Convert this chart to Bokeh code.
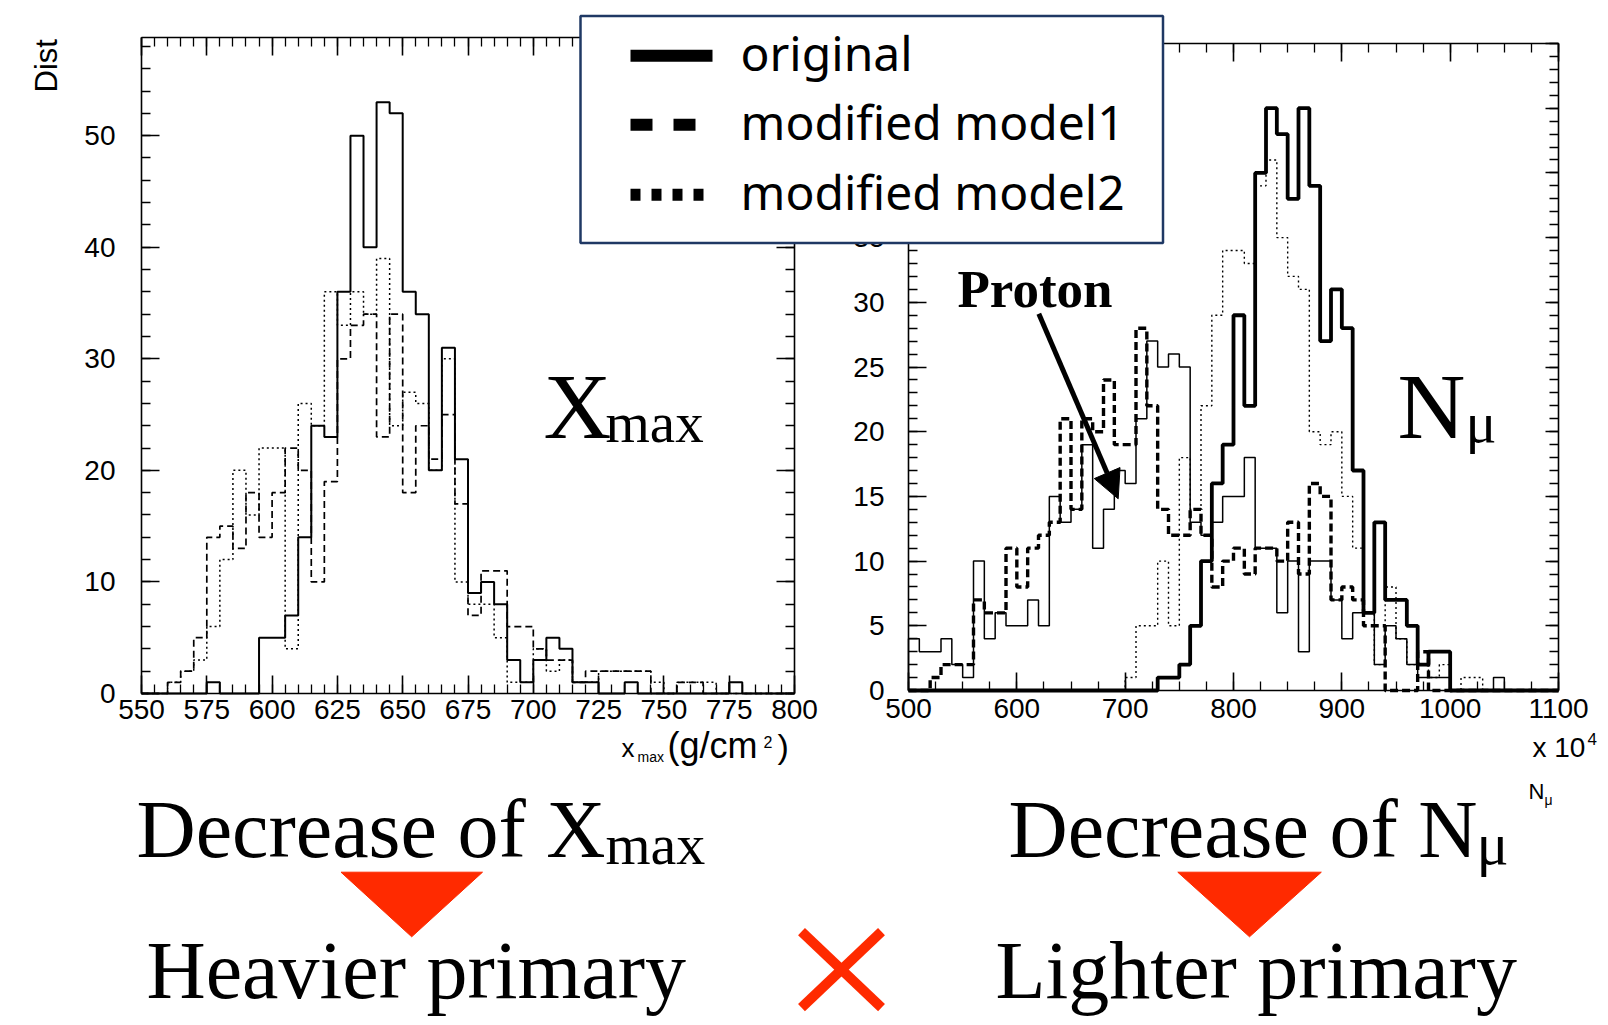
import math
import numpy as np
from bokeh.plotting import figure
from bokeh.models import (Range1d, LinearAxis, SingleIntervalTicker, Label, Arrow,
                          NormalHead, BoxAnnotation, PolyAnnotation)
from bokeh.embed import file_html
from bokeh.resources import INLINE

# ---------------- data ----------------
XMAX_START = 550          # g/cm2, first bin edge
XMAX_BIN = 5
XMAX_ORIGINAL = [0, 0, 0, 0, 0, 1, 0, 0, 0, 5,
                 5, 7, 14, 24, 23, 36, 50, 40, 53, 52,
                 36, 34, 20, 31, 21, 9, 10, 8, 3, 1,
                 3, 5, 4, 1, 1, 0, 0, 1, 0, 0,
                 0, 0, 0, 0, 0, 1, 0, 0, 0, 0]
XMAX_MODEL1 = [0, 0, 1, 2, 5, 14, 15, 13, 18, 14,
               18, 22, 20, 10, 19, 30, 33, 34, 23, 34,
               18, 24, 21, 25, 17, 7, 11, 11, 6, 6,
               4, 3, 3, 1, 2, 2, 2, 2, 2, 0,
               0, 1, 1, 0, 0, 0, 0, 0, 0, 0]
XMAX_MODEL2 = [0, 0, 1, 2, 3, 6, 12, 20, 16, 22,
               22, 4, 26, 24, 36, 33, 36, 34, 39, 24,
               27, 26, 20, 30, 10, 8, 8, 5, 1, 1,
               4, 2, 3, 1, 1, 2, 2, 2, 2, 1,
               0, 1, 1, 1, 0, 0, 0, 0, 0, 0]

NMU_START = 500           # x 10^4
NMU_BIN = 10
NMU_THIN_SOLID = [4, 3, 3, 4, 2, 1, 10, 4, 6, 5,
                  5, 7, 5, 15, 13, 14, 19, 11, 14, 17,
                  16, 21, 27, 25, 26, 25, 13, 12, 13, 15,
                  15, 18, 11, 11, 6, 10, 3, 10, 10, 7,
                  4, 6, 6, 2, 5, 4, 2, 1, 1, 1,
                  0, 0, 0, 0, 1, 0, 0, 0, 0, 0]
NMU_THICK_DASHED = [0, 0, 1, 2, 2, 2, 7, 6, 6, 11,
                    8, 11, 12, 13, 21, 14, 21, 20, 24, 19,
                    19, 28, 22, 14, 12, 12, 14, 12, 8, 10,
                    11, 9, 11, 11, 10, 13, 9, 16, 15, 7,
                    8, 7, 5, 5, 0, 0, 0, 3, 0, 0,
                    0, 0, 0, 0, 0, 0, 0, 0, 0, 0]
NMU_THICK_SOLID = [0, 0, 0, 0, 0, 0, 0, 0, 0, 0,
                   0, 0, 0, 0, 0, 0, 0, 0, 0, 0,
                   0, 0, 0, 1, 1, 2, 5, 10, 16, 19,
                   29, 22, 40, 45, 43, 38, 45, 39, 27, 31,
                   28, 17, 6, 13, 7, 7, 5, 2, 3, 3,
                   0, 0, 0, 0, 0, 0, 0, 0, 0, 0]
NMU_THIN_DOTTED = [0, 0, 0, 0, 0, 0, 0, 0, 0, 0,
                   0, 0, 0, 0, 0, 0, 0, 0, 0, 0,
                   1, 5, 5, 10, 5, 18, 14, 22, 29, 34,
                   34, 33, 39, 41, 35, 32, 31, 20, 19, 20,
                   15, 11, 6, 2, 8, 4, 2, 2, 1, 2,
                   0, 1, 1, 0, 0, 0, 0, 0, 0, 0]

LEGEND_LABELS = ["original", "modified model1", "modified model2"]

# ---------------- geometry (page pixels) ----------------
RED = "#FF2A00"
NAVY = "#1F3864"
SERIF = "Liberation Serif"
SANS = "Liberation Sans"
NOTO = "Noto Sans"
# measured offset of the alphabetic baseline, as a fraction of the font size
BASE_SHIFT = {SERIF: 0.36, SANS: 0.42, NOTO: 0.40}

W, H = 1600, 1021                      # canvas, placed at the page origin
PX0, PY0 = 0, 0
L_BOX = (141, 794, 37, 693)            # left panel frame: x0, x1, ytop, ybottom
R_BOX = (908, 1558, 43, 690)           # right panel frame
L_XR, L_YR = (550, 800), (0, 58.8)
R_XR, R_YR = (500, 1100), (0, 50)


def lin(p0, p1, v0, v1):
    return lambda p: v0 + (p - p0) * (v1 - v0) / (p1 - p0)


LX = lin(L_BOX[0], L_BOX[1], *L_XR)
LY = lin(L_BOX[3], L_BOX[2], *L_YR)
RX = lin(R_BOX[0], R_BOX[1], *R_XR)
RY = lin(R_BOX[3], R_BOX[2], *R_YR)

p = figure(width=W, height=H, min_border=0,
           x_range=Range1d(LX(PX0), LX(PX0 + W)),
           y_range=Range1d(LY(PY0 + H), LY(PY0)),
           x_axis_location=None, y_axis_location=None,
           toolbar_location=None, output_backend="svg", title=None)
p.extra_x_ranges = {"rx": Range1d(RX(PX0), RX(PX0 + W))}
p.extra_y_ranges = {"ry": Range1d(RY(PY0 + H), RY(PY0))}
p.outline_line_color = None
p.background_fill_color = "white"
p.border_fill_color = "white"
p.xgrid.visible = False
p.ygrid.visible = False


def add_axis(side, bounds, fixed, interval, minor, labels, standoff=6,
             rname=False, tin=18, tmin=9):
    kw = dict(x_range_name="rx", y_range_name="ry") if rname else {}
    ax = LinearAxis(bounds=bounds, fixed_location=fixed,
                    ticker=SingleIntervalTicker(interval=interval, num_minor_ticks=minor),
                    **kw)
    ax.axis_line_color = "black"
    ax.axis_line_width = 1.6
    ax.major_tick_line_color = "black"
    ax.minor_tick_line_color = "black"
    ax.major_tick_line_width = 1.6
    ax.minor_tick_line_width = 1.3
    ax.major_tick_in = tin
    ax.major_tick_out = 0
    ax.minor_tick_in = tmin
    ax.minor_tick_out = 0
    if labels:
        ax.major_label_text_font = SANS
        ax.major_label_text_font_size = "28px"
        ax.major_label_text_color = "black"
        ax.major_label_standoff = standoff
    else:
        ax.major_label_text_color = None
        ax.major_label_standoff = 0
    p.add_layout(ax, side)
    return ax


# left panel axes (frame on all four sides, ROOT style inward ticks)
add_axis("below", L_XR, L_YR[0], 25, 5, True, standoff=6)
add_axis("above", L_XR, L_YR[1], 25, 5, False)
add_axis("left", L_YR, L_XR[0], 10, 5, True, standoff=26)
add_axis("right", L_YR, L_XR[1], 10, 5, False)
# right panel axes
add_axis("below", R_XR, R_YR[0], 100, 4, True, standoff=8, rname=True)
add_axis("above", R_XR, R_YR[1], 100, 4, False, rname=True)
add_axis("left", R_YR, R_XR[0], 5, 5, True, standoff=24, rname=True)
add_axis("right", R_YR, R_XR[1], 5, 5, False, rname=True, tin=13)


def step_xy(start, width, counts):
    c = np.asarray(counts, dtype=float)
    edges = start + width * np.arange(len(c) + 1)
    xs = np.concatenate([[edges[0]], edges])
    ys = np.concatenate([[0.0], c, [0.0]])
    return xs, ys


# ---------------- histograms ----------------
xs, ys = step_xy(XMAX_START, XMAX_BIN, XMAX_MODEL2)
p.step(xs, ys, mode="after", line_color="black", line_width=1.5, line_dash="2 3")
xs, ys = step_xy(XMAX_START, XMAX_BIN, XMAX_MODEL1)
p.step(xs, ys, mode="after", line_color="black", line_width=1.7, line_dash="7 4")
xs, ys = step_xy(XMAX_START, XMAX_BIN, XMAX_ORIGINAL)
p.step(xs, ys, mode="after", line_color="black", line_width=2.0)

R = dict(x_range_name="rx", y_range_name="ry")
xs, ys = step_xy(NMU_START, NMU_BIN, NMU_THIN_DOTTED)
p.step(xs, ys, mode="after", line_color="black", line_width=1.4, line_dash="2 3", **R)
xs, ys = step_xy(NMU_START, NMU_BIN, NMU_THICK_DASHED)
p.step(xs, ys, mode="after", line_color="black", line_width=3.4, line_dash="8 4", **R)
xs, ys = step_xy(NMU_START, NMU_BIN, NMU_THIN_SOLID)
p.step(xs, ys, mode="after", line_color="black", line_width=1.5, **R)
xs, ys = step_xy(NMU_START, NMU_BIN, NMU_THICK_SOLID)
p.step(xs, ys, mode="after", line_color="black", line_width=3.8, **R)


# ---------------- annotations (positions in page pixels, baseline) ----------------
def label(px, py, text, size, font=SERIF, style="normal", color="black", angle=0.0):
    k = BASE_SHIFT[font] * size
    if angle:
        px -= k
    else:
        py -= k
    p.add_layout(Label(x=LX(px), y=LY(py), text=text, text_font=font,
                       text_font_size=f"{size}px", text_font_style=style,
                       text_color=color, text_baseline="alphabetic",
                       text_align="left", angle=angle, level="overlay"))


def seg(x0, y0, x1, y1, width, color="black", dash="solid", head=None):
    p.add_layout(Arrow(start=None, end=head, x_start=LX(x0), y_start=LY(y0),
                       x_end=LX(x1), y_end=LY(y1), line_width=width,
                       line_color=color, line_dash=dash, line_cap="butt",
                       level="overlay"))


def tri(pts):
    p.add_layout(PolyAnnotation(xs=[LX(a) for a, _ in pts], ys=[LY(b) for _, b in pts],
                                fill_color=RED, fill_alpha=1.0, line_color=RED,
                                line_alpha=1.0, line_width=1, level="overlay"))


# panel texts
label(543, 439, "X", 94)
label(605, 443, "max", 57)
label(1397, 439, "N", 94)
label(1465, 443, "\u03bc", 58)
label(957, 308, "Proton", 53, style="bold")
seg(1038.3, 313.3, 1117.7, 498.3, 5,
    head=NormalHead(size=28, fill_color="black", line_color="black"))

# axis titles
label(59, 92, "Dist", 31, font=SANS, angle=math.pi / 2)
label(621, 758, "x", 26, font=SANS)
label(637, 762, "max", 14, font=SANS)
label(667, 760, "(g/cm", 36, font=SANS)
label(763, 748, "2", 16, font=SANS)
label(777, 760, ")", 34, font=SANS)
label(1532, 759, "x 10", 28, font=SANS)
label(1587, 746, "4", 17, font=SANS)
label(1528, 800, "N", 22, font=SANS)
label(1544, 805, "\u03bc", 14, font=SANS)

# legend
p.add_layout(BoxAnnotation(left=LX(580), right=LX(1162.5), top=LY(15.5),
                           bottom=LY(242.5), fill_color="white", fill_alpha=1.0,
                           line_color=NAVY, line_alpha=1.0, line_width=2.5,
                           level="overlay"))
seg(630, 55.3, 712, 55.3, 12)
seg(630, 124.2, 695, 124.2, 12, dash="22 21")
seg(630, 194.2, 705, 194.2, 12, dash="10 11")
for txt, base in zip(LEGEND_LABELS, [71, 140.5, 210.5]):
    label(740, base, txt, 48, font=NOTO)

# bottom conclusions
label(136, 859, "Decrease of X", 82)
label(605, 865, "max", 58)
tri([(340.5, 871.7), (482, 871.7), (411.2, 936.3)])
label(146, 1000, "Heavier primary", 82)

label(1008, 859, "Decrease of N", 82)
label(1476, 865, "\u03bc", 60)
tri([(1177.3, 871.7), (1320.8, 871.7), (1249, 936.3)])
label(995, 1000, "Lighter primary", 82)

seg(801, 931, 881, 1007, 10, color=RED)
seg(881, 931, 801, 1007, 10, color=RED)

open("out.html", "w").write(file_html(p, INLINE))
